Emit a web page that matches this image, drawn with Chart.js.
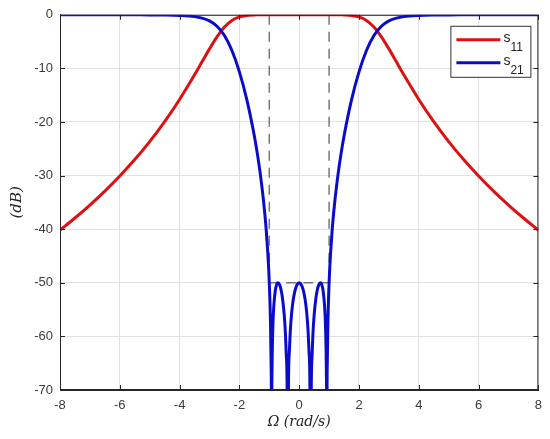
<!DOCTYPE html>
<html>
<head>
<meta charset="utf-8">
<script src="https://cdn.jsdelivr.net/npm/chart.js@4"></script>
<style>
  html, body { margin: 0; padding: 0; background: #fff; }
  #wrap { width: 550px; height: 439px; }
</style>
</head>
<body>
<div id="wrap"><canvas id="chart"></canvas></div>
<script>
// normalized frequency (rad/s)
const omega = [
  -8, -7.5, -7, -6.5, -6, -5.5, -5, -4.5, -4, -3.5, -3.25, -3, -2.75, -2.5, -2.25, -2,
  -1.75, -1.5, -1.4, -1.3, -1.2, -1.15, -1.1, -1.05, -1.02, -1, -0.98, -0.96, -0.94,
  -0.93, -0.9239, -0.92, -0.91, -0.9, -0.88, -0.85, -0.8, -0.75, -0.7071, -0.65, -0.6,
  -0.55, -0.5, -0.46, -0.43, -0.4, -0.3827, -0.36, -0.33, -0.3, -0.25, -0.2, -0.15,
  -0.1, -0.05, 0,
  0.05, 0.1, 0.15, 0.2, 0.25, 0.3, 0.33, 0.36, 0.3827, 0.4, 0.43, 0.46, 0.5, 0.55,
  0.6, 0.65, 0.7071, 0.75, 0.8, 0.85, 0.88, 0.9, 0.91, 0.92, 0.9239, 0.93, 0.94,
  0.96, 0.98, 1, 1.02, 1.05, 1.1, 1.15, 1.2, 1.3, 1.4, 1.5, 1.75, 2, 2.25, 2.5,
  2.75, 3, 3.25, 3.5, 4, 4.5, 5, 5.5, 6, 6.5, 7, 7.5, 8
];

// |S11| in dB
const s11 = [
  -40.17, -37.91, -35.49, -32.89, -30.07, -27.01, -23.65, -19.93, -15.79, -11.2, -8.78, -6.36, -4.12, -2.29, -1.05, -0.39,
  -0.11, -0.02, -0.01, 0, 0, 0, 0, 0, 0, 0, 0, 0, 0,
  0, 0, 0, 0, 0, 0, 0, 0, 0, 0, 0, 0,
  0, 0, 0, 0, 0, 0, 0, 0, 0, 0, 0, 0,
  0, 0, 0,
  0, 0, 0, 0, 0, 0, 0, 0, 0, 0, 0, 0, 0, 0,
  0, 0, 0, 0, 0, 0, 0, 0, 0, 0, 0, 0, 0,
  0, 0, 0, 0, 0, 0, 0, 0, 0, -0.01, -0.02, -0.11, -0.39, -1.05, -2.29,
  -4.12, -6.36, -8.78, -11.2, -15.79, -19.93, -23.65, -27.01, -30.07, -32.89, -35.49, -37.91, -40.17
];

// |S21| in dB (the nulls fall far below the axis)
const s21 = [
  0, 0, 0, 0, 0, -0.01, -0.02, -0.04, -0.12, -0.34, -0.62, -1.14, -2.13, -3.87, -6.67, -10.65,
  -15.87, -22.6, -25.9, -29.72, -34.34, -37.11, -40.36, -44.41, -47.48, -50, -53.15, -57.49, -65.03,
  -73.71, -120, -77.95, -67.15, -62.72, -58.01, -54.38, -51.48, -50.28, -50, -50.43, -51.48,
  -53.25, -56.02, -59.51, -63.73, -72.48, -120, -70.21, -63.01, -59.25, -55.49, -53.19, -51.68,
  -50.72, -50.18, -50,
  -50.18, -50.72, -51.68, -53.19, -55.49, -59.25, -63.01, -70.21, -120, -72.48, -63.73, -59.51, -56.02, -53.25,
  -51.48, -50.43, -50, -50.28, -51.48, -54.38, -58.01, -62.72, -67.15, -77.95, -120, -73.71, -65.03,
  -57.49, -53.15, -50, -47.48, -44.41, -40.36, -37.11, -34.34, -29.72, -25.9, -22.6, -15.87, -10.65, -6.67, -3.87,
  -2.13, -1.14, -0.62, -0.34, -0.12, -0.04, -0.02, -0.01, 0, 0, 0, 0, 0
];

// band edges and ripple level (dashed guides)
const bandEdges = [-1, 1];
const rippleLevel = -50;

const xTicks = [-8, -6, -4, -2, 0, 2, 4, 6, 8];
const yTicks = [0, -10, -20, -30, -40, -50, -60, -70];

const legendNames = ['s', 's'];
const legendSubs = ['11', '21'];
const legendColors = ['#dd1111', '#0b0bcc'];

const pts = (ys) => omega.map((x, i) => ({ x: x, y: ys[i] }));

const axisColor = '#262626';

const frame = {
  id: 'frame',
  afterDraw(chart) {
    const { ctx, chartArea: a, scales } = chart;
    ctx.save();
    ctx.strokeStyle = axisColor;
    ctx.lineWidth = 1;
    ctx.strokeRect(a.left + 0.5, a.top + 0.5, a.right - a.left - 1, a.bottom - a.top - 1);
    // inward tick marks, matlab style
    ctx.beginPath();
    xTicks.forEach(v => {
      const px = Math.round(scales.x.getPixelForValue(v)) + 0.5;
      ctx.moveTo(px, a.bottom); ctx.lineTo(px, a.bottom - 5);
      ctx.moveTo(px, a.top); ctx.lineTo(px, a.top + 5);
    });
    yTicks.forEach(v => {
      const py = Math.round(scales.y.getPixelForValue(v)) + 0.5;
      ctx.moveTo(a.left, py); ctx.lineTo(a.left + 5, py);
      ctx.moveTo(a.right, py); ctx.lineTo(a.right - 5, py);
    });
    ctx.stroke();

    // legend box
    const bx = a.right - 88, by = a.top + 11, bw = 80, bh = 51;
    ctx.fillStyle = '#fff';
    ctx.fillRect(bx, by, bw, bh);
    ctx.strokeStyle = '#333';
    ctx.strokeRect(bx + 0.5, by + 0.5, bw, bh);
    legendNames.forEach((name, i) => {
      const y = by + 14 + i * 23;
      ctx.strokeStyle = legendColors[i];
      ctx.lineWidth = 3;
      ctx.beginPath();
      ctx.moveTo(bx + 6, y); ctx.lineTo(bx + 50, y);
      ctx.stroke();
      ctx.fillStyle = '#222';
      ctx.textBaseline = 'alphabetic';
      ctx.textAlign = 'left';
      ctx.font = '14px "Liberation Sans", Arial, sans-serif';
      ctx.fillText(name, bx + 53, y + 2);
      ctx.font = '12px "Liberation Sans", Arial, sans-serif';
      ctx.fillText(legendSubs[i], bx + 60, y + 11);
    });
    ctx.restore();
  }
};

const guideStyle = {
  borderColor: '#777',
  borderWidth: 1.5,
  borderDash: [10, 7],
  pointRadius: 0,
  fill: false,
  order: 3
};

new Chart(document.getElementById('chart'), {
  type: 'line',
  data: {
    datasets: [
      {
        label: 's21',
        data: pts(s21),
        borderColor: legendColors[1],
        borderWidth: 3,
        pointRadius: 0,
        cubicInterpolationMode: 'monotone',
        order: 0
      },
      {
        label: 's11',
        data: pts(s11),
        borderColor: legendColors[0],
        borderWidth: 3,
        pointRadius: 0,
        cubicInterpolationMode: 'monotone',
        order: 1
      },
      Object.assign({ label: 'edge1', data: [{ x: bandEdges[0], y: 0 }, { x: bandEdges[0], y: rippleLevel }] }, guideStyle),
      Object.assign({ label: 'edge2', data: [{ x: bandEdges[1], y: 0 }, { x: bandEdges[1], y: rippleLevel }] }, guideStyle),
      Object.assign({ label: 'ripple', data: [{ x: bandEdges[0], y: rippleLevel }, { x: bandEdges[1], y: rippleLevel }] }, guideStyle)
    ]
  },
  options: {
    responsive: true,
    maintainAspectRatio: false,
    animation: false,
    layout: { padding: { top: 11, right: 9, left: 0, bottom: 0 } },
    plugins: {
      legend: { display: false },
      tooltip: { enabled: false }
    },
    scales: {
      x: {
        type: 'linear',
        min: -8,
        max: 8,
        afterBuildTicks(s) { s.ticks = xTicks.map(v => ({ value: v })); },
        afterFit(s) { s.height = 49; },
        ticks: {
          color: '#3a3a3a',
          padding: 8,
          font: { family: '"Liberation Sans", Arial, sans-serif', size: 13 }
        },
        grid: { color: '#e2e2e2', drawTicks: false },
        border: { color: axisColor },
        title: {
          display: true,
          text: 'Ω (rad/s)',
          color: '#222',
          font: { family: '"DejaVu Serif", serif', style: 'italic', size: 14 },
          padding: { top: 0, bottom: 8 }
        }
      },
      y: {
        min: -70,
        max: 0,
        afterBuildTicks(s) { s.ticks = yTicks.map(v => ({ value: v })); },
        afterFit(s) { s.width = 60; },
        ticks: {
          color: '#3a3a3a',
          padding: 7,
          font: { family: '"Liberation Sans", Arial, sans-serif', size: 13 }
        },
        grid: { color: '#e2e2e2', drawTicks: false },
        border: { color: axisColor },
        title: {
          display: true,
          text: '(dB)',
          color: '#222',
          font: { family: '"DejaVu Serif", serif', style: 'italic', size: 15 },
          padding: { top: 8, bottom: 0 }
        }
      }
    }
  },
  plugins: [frame]
});
</script>
</body>
</html>
